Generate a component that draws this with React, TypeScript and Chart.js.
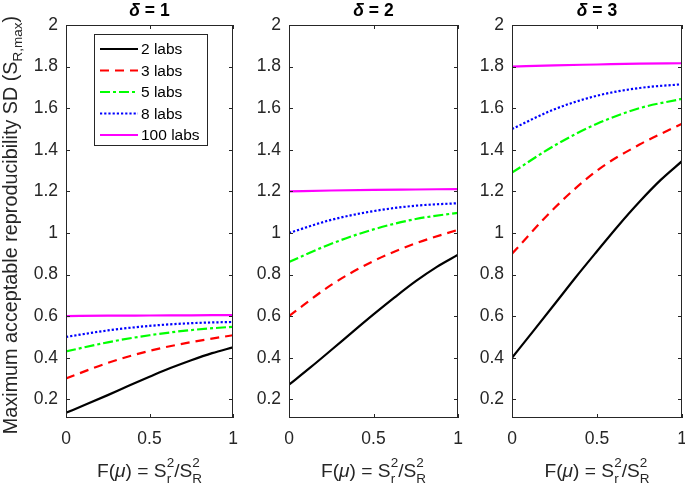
import React, { useEffect, useRef } from "react";
import { Chart, registerables } from "chart.js";
Chart.register(...registerables);

// ---------- data ----------
const X_VALUES = [0, 0.25, 0.5, 0.75, 1];
const X_VALUES_2LABS = [0, 0.125, 0.25, 0.375, 0.5, 0.625, 0.75, 0.875, 1];
const SERIES_LABELS = ["2 labs", "3 labs", "5 labs", "8 labs", "100 labs"];
const DELTA_VALUES = ["1", "2", "3"];
const Y_TICKS = [0.2, 0.4, 0.6, 0.8, 1, 1.2, 1.4, 1.6, 1.8, 2];
const X_TICKS = [0, 0.5, 1];

// delta = 1
const D1_LABS2 = [0.135, 0.177, 0.22, 0.265, 0.308, 0.35, 0.388, 0.422, 0.45];
const D1_LABS3 = [0.3, 0.375, 0.433, 0.475, 0.508];
const D1_LABS5 = [0.43, 0.474, 0.508, 0.533, 0.549];
const D1_LABS8 = [0.5, 0.531, 0.553, 0.566, 0.572];
const D1_LABS100 = [0.6, 0.602, 0.603, 0.604, 0.605];
// delta = 2
const D2_LABS2 = [0.27, 0.352, 0.437, 0.523, 0.608, 0.69, 0.768, 0.837, 0.895];
const D2_LABS3 = [0.6, 0.75, 0.865, 0.95, 1.015];
const D2_LABS5 = [0.86, 0.948, 1.017, 1.067, 1.097];
const D2_LABS8 = [1.0, 1.063, 1.105, 1.131, 1.143];
const D2_LABS100 = [1.2, 1.204, 1.207, 1.209, 1.211];
// delta = 3
const D3_LABS2 = [0.4, 0.528, 0.657, 0.787, 0.912, 1.035, 1.15, 1.255, 1.345];
const D3_LABS3 = [0.9, 1.12, 1.3, 1.425, 1.525];
const D3_LABS5 = [1.29, 1.42, 1.525, 1.6, 1.645];
const D3_LABS8 = [1.5, 1.595, 1.66, 1.697, 1.715];
const D3_LABS100 = [1.8, 1.806, 1.81, 1.814, 1.816];

const PANEL_SERIES = [
  [D1_LABS2, D1_LABS3, D1_LABS5, D1_LABS8, D1_LABS100],
  [D2_LABS2, D2_LABS3, D2_LABS5, D2_LABS8, D2_LABS100],
  [D3_LABS2, D3_LABS3, D3_LABS5, D3_LABS8, D3_LABS100],
];
const SERIES_X = [X_VALUES_2LABS, X_VALUES, X_VALUES, X_VALUES, X_VALUES];

// ---------- styles / layout ----------
const W = 685;
const H = 486;
const FAMILY = "'Liberation Sans', Arial, Helvetica, sans-serif";
const AXIS_COLOR = "#262626";
const TICK_SIZE = 17.5;
const LEGEND_SIZE = 15.5;
const TITLE_SIZE = 17.5;
const LABEL_SIZE = 19.2;
const YLABEL_SIZE = 19.8;
const SCRIPT_SIZE = 13.5;
const SERIES_COLORS = ["#000000", "#ff0000", "#00ff00", "#0000ff", "#ff00ff"];
const SERIES_DASH = [[], [9, 6], [10, 3, 3, 3], [2.2, 2], []];
const LINE_WIDTH = 2.2;
const PANEL_LEFT = [66, 289, 512];
const PANEL_RIGHT = [233, 458, 682];
const AREA_TOP = 25;
const AREA_BOTTOM = 418;
const Y_AXIS_W = 40;
const X_AXIS_H = 30;
const TICK_LEN = 4;

type Seg = { t: string; italic?: boolean; bold?: boolean; sup?: string; sub?: string };

function fontStr(size: number, italic?: boolean, bold?: boolean) {
  return `${italic ? "italic " : ""}${bold ? "bold " : ""}${size}px ${FAMILY}`;
}

function richWidth(ctx: CanvasRenderingContext2D, segs: Seg[], size: number, script: number) {
  let w = 0;
  for (const s of segs) {
    if (s.sup !== undefined || s.sub !== undefined) {
      ctx.font = fontStr(script);
      const a = s.sup ? ctx.measureText(s.sup).width : 0;
      const b = s.sub ? ctx.measureText(s.sub).width : 0;
      w += Math.max(a, b);
    } else {
      ctx.font = fontStr(size, s.italic, s.bold);
      w += ctx.measureText(s.t).width;
    }
  }
  return w;
}

function drawRich(
  ctx: CanvasRenderingContext2D,
  segs: Seg[],
  cx: number,
  baseline: number,
  size: number,
  script: number,
  supOff: number,
  subOff: number
) {
  const total = richWidth(ctx, segs, size, script);
  let x = cx - total / 2;
  ctx.textAlign = "left";
  ctx.textBaseline = "alphabetic";
  for (const s of segs) {
    if (s.sup !== undefined || s.sub !== undefined) {
      ctx.font = fontStr(script);
      let adv = 0;
      if (s.sup) {
        ctx.fillText(s.sup, x, baseline + supOff);
        adv = Math.max(adv, ctx.measureText(s.sup).width);
      }
      if (s.sub) {
        ctx.fillText(s.sub, x, baseline + subOff);
        adv = Math.max(adv, ctx.measureText(s.sub).width);
      }
      x += adv;
    } else {
      ctx.font = fontStr(size, s.italic, s.bold);
      ctx.fillText(s.t, x, baseline);
      x += ctx.measureText(s.t).width;
    }
  }
}

const X_TITLE: Seg[] = [
  { t: "F(" },
  { t: "\u03bc", italic: true },
  { t: ") = S" },
  { t: "", sup: "2", sub: "r" },
  { t: "/S" },
  { t: "", sup: "2", sub: "R" },
];

const Y_TITLE: Seg[] = [
  { t: "Maximum acceptable reproducibility SD (S" },
  { t: "", sub: "R,max" },
  { t: ")" },
];

const framePlugin = {
  id: "frame",
  afterDraw(chart: any, _args: any, opts: any) {
    const ctx: CanvasRenderingContext2D = chart.ctx;
    const a = chart.chartArea;
    const xs = chart.scales.x;
    const ys = chart.scales.y;
    ctx.save();
    ctx.strokeStyle = AXIS_COLOR;
    ctx.lineWidth = 1;
    ctx.beginPath();
    for (const v of Y_TICKS) {
      const y = Math.round(ys.getPixelForValue(v)) + 0.5;
      ctx.moveTo(a.left, y);
      ctx.lineTo(a.left + TICK_LEN, y);
      ctx.moveTo(a.right, y);
      ctx.lineTo(a.right - TICK_LEN, y);
    }
    for (const v of X_TICKS) {
      const x = Math.round(xs.getPixelForValue(v)) + 0.5;
      ctx.moveTo(x, a.bottom);
      ctx.lineTo(x, a.bottom - TICK_LEN);
      ctx.moveTo(x, a.top);
      ctx.lineTo(x, a.top + TICK_LEN);
    }
    ctx.stroke();
    ctx.strokeRect(a.left + 0.5, a.top + 0.5, a.right - a.left - 1, a.bottom - a.top - 1);

    const cx = (a.left + a.right) / 2;
    ctx.fillStyle = "#000";
    // panel title
    drawRich(
      ctx,
      [{ t: "\u03b4", italic: true, bold: true }, { t: " = " + opts.delta, bold: true }],
      cx,
      16,
      TITLE_SIZE,
      TITLE_SIZE,
      0,
      0
    );
    ctx.fillStyle = AXIS_COLOR;
    // x title
    drawRich(ctx, X_TITLE, cx, 477, LABEL_SIZE, SCRIPT_SIZE, -10.5, 6);

    if (opts.first) {
      // y title
      ctx.save();
      ctx.translate(16.5, 225);
      ctx.rotate(-Math.PI / 2);
      drawRich(ctx, Y_TITLE, 0, 0, YLABEL_SIZE, SCRIPT_SIZE, 0, 5);
      ctx.restore();

      // legend
      const lx = a.left + 28;
      const ly = a.top + 9;
      const lw = 113;
      const lh = 111;
      ctx.fillStyle = "#fff";
      ctx.fillRect(lx, ly, lw, lh);
      ctx.strokeStyle = AXIS_COLOR;
      ctx.lineWidth = 1;
      ctx.strokeRect(lx + 0.5, ly + 0.5, lw, lh);
      chart.data.datasets.forEach((ds: any, i: number) => {
        const y = ly + 15 + i * 21.5;
        ctx.save();
        ctx.strokeStyle = ds.borderColor;
        ctx.lineWidth = ds.borderWidth;
        ctx.setLineDash(ds.borderDash || []);
        ctx.beginPath();
        ctx.moveTo(lx + 6, y);
        ctx.lineTo(lx + 44, y);
        ctx.stroke();
        ctx.restore();
        ctx.fillStyle = "#000";
        ctx.font = fontStr(LEGEND_SIZE);
        ctx.textAlign = "left";
        ctx.textBaseline = "middle";
        ctx.fillText(ds.label, lx + 47, y + 1);
      });
    }
    ctx.restore();
  },
};

function makeConfig(panel: number): any {
  const series = PANEL_SERIES[panel];
  const tickFont = { family: FAMILY, size: TICK_SIZE };
  return {
    type: "line",
    data: {
      datasets: series.map((vals, i) => ({
        label: SERIES_LABELS[i],
        data: SERIES_X[i].map((x, j) => ({ x, y: vals[j] })),
        borderColor: SERIES_COLORS[i],
        borderWidth: LINE_WIDTH,
        borderDash: SERIES_DASH[i],
        pointRadius: 0,
        fill: false,
        cubicInterpolationMode: "monotone",
      })),
    },
    options: {
      animation: false,
      responsive: false,
      events: [],
      layout: {
        padding: {
          left: PANEL_LEFT[panel] - Y_AXIS_W,
          right: W - PANEL_RIGHT[panel],
          top: AREA_TOP,
          bottom: H - AREA_BOTTOM - X_AXIS_H,
        },
      },
      plugins: {
        legend: { display: false },
        tooltip: { enabled: false },
        frame: { delta: DELTA_VALUES[panel], first: panel === 0 },
      },
      scales: {
        x: {
          type: "linear",
          min: 0,
          max: 1,
          grid: { display: false, drawTicks: false },
          border: { display: false },
          ticks: {
            font: tickFont,
            color: AXIS_COLOR,
            padding: 11,
            maxRotation: 0,
            autoSkip: false,
            callback: (v: number) => String(Math.round(v * 10) / 10),
          },
          afterBuildTicks: (s: any) => {
            s.ticks = X_TICKS.map((v) => ({ value: v }));
          },
          afterFit: (s: any) => {
            s.height = X_AXIS_H;
            s.paddingLeft = 0;
            s.paddingRight = 0;
          },
        },
        y: {
          type: "linear",
          min: 0.11,
          max: 2,
          grid: { display: false, drawTicks: false },
          border: { display: false },
          ticks: {
            font: tickFont,
            color: AXIS_COLOR,
            padding: 8,
            autoSkip: false,
            callback: (v: number) => String(Math.round(v * 10) / 10),
          },
          afterBuildTicks: (s: any) => {
            s.ticks = Y_TICKS.map((v) => ({ value: v }));
          },
          afterFit: (s: any) => {
            s.width = Y_AXIS_W;
            s.paddingTop = 0;
            s.paddingBottom = 0;
          },
        },
      },
    },
    plugins: [framePlugin],
  };
}

export default function App() {
  const r0 = useRef<HTMLCanvasElement>(null);
  const r1 = useRef<HTMLCanvasElement>(null);
  const r2 = useRef<HTMLCanvasElement>(null);
  useEffect(() => {
    const refs = [r0, r1, r2];
    const charts = refs.map((r, i) => new Chart(r.current as HTMLCanvasElement, makeConfig(i)));
    return () => charts.forEach((c) => c.destroy());
  }, []);
  const style: React.CSSProperties = { position: "absolute", left: 0, top: 0 };
  return (
    <div style={{ position: "absolute", left: 0, top: 0, width: W, height: H, background: "#fff" }}>
      <canvas ref={r0} width={W} height={H} style={style} />
      <canvas ref={r1} width={W} height={H} style={style} />
      <canvas ref={r2} width={W} height={H} style={style} />
    </div>
  );
}
